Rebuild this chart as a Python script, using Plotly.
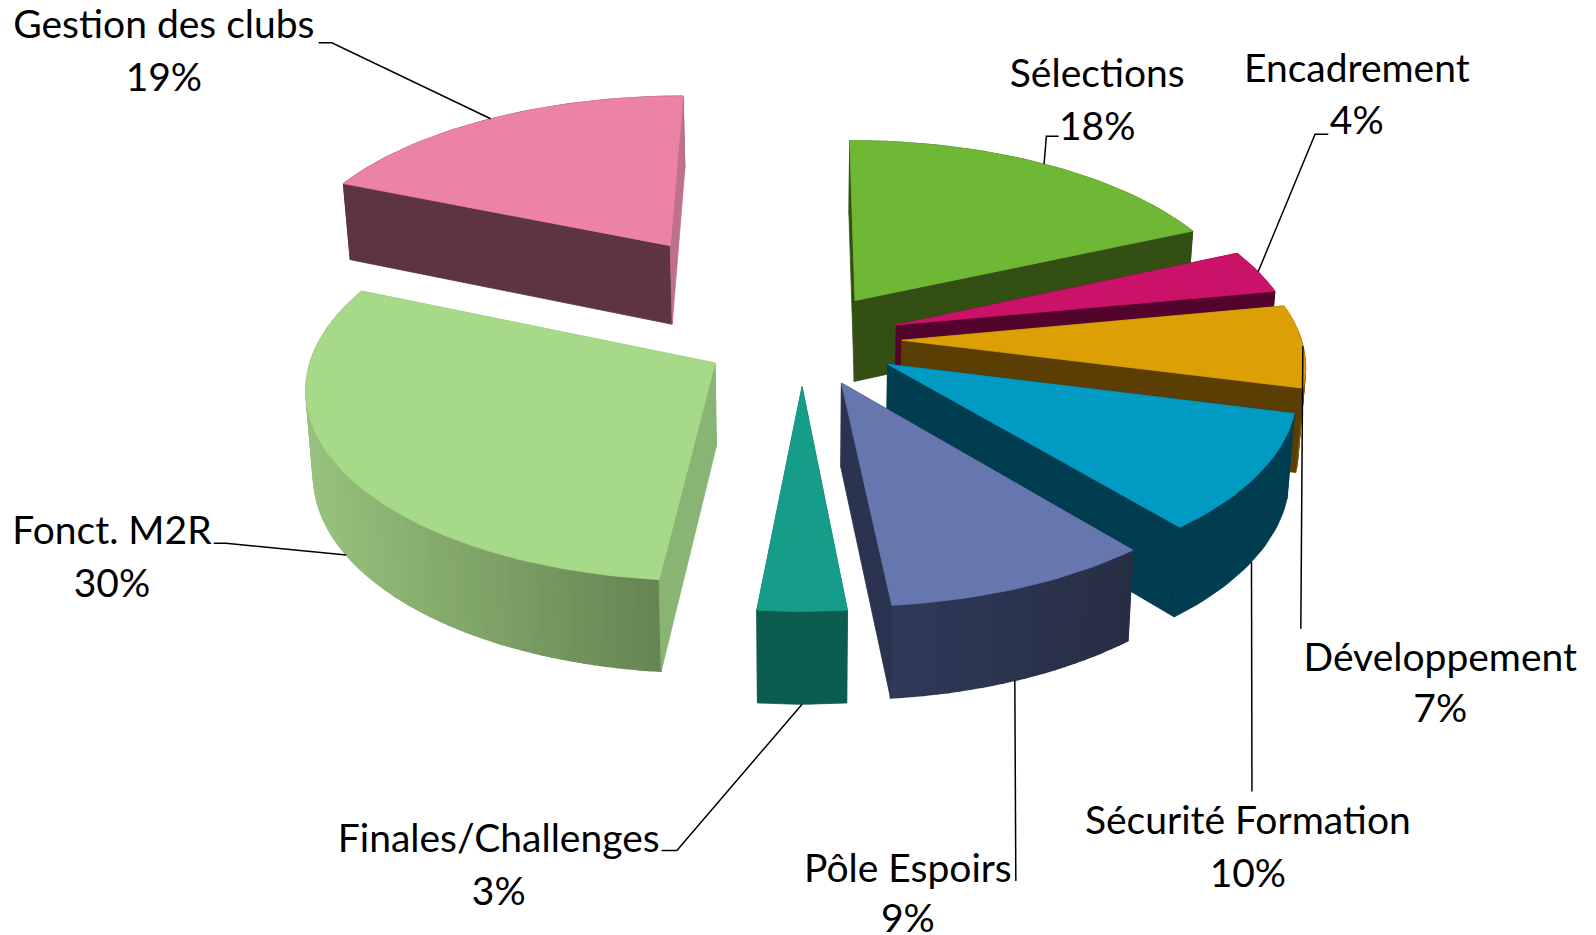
import math
import plotly.graph_objects as go

# --- data ---
categories = ["Sélections", "Encadrement", "Développement", "Sécurité Formation",
              "Pôle Espoirs", "Finales/Challenges", "Fonct. M2R", "Gestion des clubs"]
values = [18.3, 3.7, 7.0, 10.0, 9.45, 3.1, 29.83, 18.62]

# --- styles ---
explode = [0.25, 0.25, 0.25, 0.25, 0.25, 0.25, 0.25, 0.635]
top_colors = ["#6FB835", "#CB1269", "#DCA005", "#009AC3", "#6577AE", "#169D8A", "#A6D988", "#EC82A4"]
radial_colors = ["#334F13", "#52042C", "#5A3E04", "#013D50", "#2A3350", "#0E5C51", "#89B574", "#5E3343"]
wall_left = ["#334F13", "#52042C", "#DCA005", "#013D50", "#2F3A5A", "#0C5C50", "#98C27D", "#5E3343"]
wall_right = ["#334F13", "#52042C", "#7A5600", "#013D50", "#272E44", "#0C5C50", "#658451", "#5E3343"]
end_wall_colors = ["#334F13", "#52042C", "#5A3E04", "#013D50", "#2A3350", "#0E5C51", "#89B574", "#C0708F"]
draw_order = [7, 0, 1, 2, 3, 4, 5, 6]

CX, CY = 788, 333
A, B, K = 392, 183.5, 0.115
W, H = 1568, 919
FONT = "Lato"
FSIZE = 39
LINE = "#000000"

# label centres (line 1 y, line 2 y) and leader waypoints
label_xy = [(1078, 76, 128), (1333, 71, 122), (1415, 650, 700), (1226, 810, 862),
            (892, 857, 906), (490, 828, 880), (110, 525, 577), (161, 28, 80)]
leader_via = [[(1028, 134), (1040, 134)], [(1292, 132), (1305, 132)], [(1278, 618)], [(1230, 778)],
              [(998, 866)], [(665, 836), (650, 836)], [(222, 534), (210, 534)], [(326, 42), (313, 42)]]
leader_on_bottom = [False, False, False, True, True, True, True, False]
leader_frac = [0.5, 0.5, 0.5, 0.5, 0.52, 0.5, 0.5, 0.5]


def project(u, v, low=False):
    d = 1 + K * v
    x = A * u / d
    y = -B * v / d
    if low:
        x *= 0.985
        y += 81 / (1 + 0.09 * v)
    return CX + x, CY + y


def poly(fig, pts, color, width=0.8):
    fig.add_trace(go.Scatter(
        x=[p[0] for p in pts] + [pts[0][0]], y=[p[1] for p in pts] + [pts[0][1]],
        mode="lines", fill="toself", fillcolor=color,
        line=dict(color=color, width=width), hoverinfo="skip", showlegend=False))


def mix(c1, c2, t):
    a = [int(c1[i:i + 2], 16) for i in (1, 3, 5)]
    b = [int(c2[i:i + 2], 16) for i in (1, 3, 5)]
    return "#%02X%02X%02X" % tuple(round(p + (q - p) * t) for p, q in zip(a, b))


total = sum(values)
spans = []
acc = 0.0
for val in values:
    spans.append((acc / total * 2 * math.pi, (acc + val) / total * 2 * math.pi))
    acc += val

fig = go.Figure()
for i in draw_order:
    s, e = spans[i]
    m = (s + e) / 2
    ox, oy = explode[i] * math.sin(m), explode[i] * math.cos(m)
    n = max(6, int((e - s) * 40))
    rim = [(ox + math.sin(s + (e - s) * j / n), oy + math.cos(s + (e - s) * j / n)) for j in range(n + 1)]
    apex = (ox, oy)

    def radial_wall(p, col):
        poly(fig, [project(*apex), project(*p), project(*p, low=True), project(*apex, low=True)], col)

    start_front = math.sin(s) < -1e-6
    end_front = math.sin(e) > -1e-6   # the wall closing the circle shows as a sliver
    if not start_front:
        radial_wall(rim[0], radial_colors[i])
    if not end_front:
        radial_wall(rim[-1], end_wall_colors[i])
    if wall_left[i] == wall_right[i]:
        poly(fig, [project(*p) for p in rim] + [project(*p, low=True) for p in reversed(rim)], wall_left[i])
    else:
        xs = [project(*p)[0] for p in rim]
        xmin, xmax = min(xs), max(xs)
        for j in range(n):
            t = (xs[j] + xs[j + 1] - 2 * xmin) / (2 * (xmax - xmin))
            poly(fig, [project(*rim[j]), project(*rim[j + 1]),
                       project(*rim[j + 1], low=True), project(*rim[j], low=True)],
                 mix(wall_left[i], wall_right[i], t), width=1.6)
    if start_front:
        radial_wall(rim[0], radial_colors[i])
    if end_front:
        radial_wall(rim[-1], end_wall_colors[i])
    poly(fig, [project(*apex)] + [project(*p) for p in rim], top_colors[i])

for i, cat in enumerate(categories):
    s, e = spans[i]
    m = (s + e) / 2
    ang = s + (e - s) * leader_frac[i]
    ax, ay = project(explode[i] * math.sin(m) + math.sin(ang), explode[i] * math.cos(m) + math.cos(ang),
                     low=leader_on_bottom[i])
    path = [(ax, ay)] + leader_via[i]
    fig.add_trace(go.Scatter(x=[p[0] for p in path], y=[p[1] for p in path], mode="lines",
                             line=dict(color=LINE, width=1.5), hoverinfo="skip", showlegend=False))
    lx, y1, y2 = label_xy[i]
    fig.add_trace(go.Scatter(x=[lx, lx], y=[y1, y2], mode="text", cliponaxis=False,
                             text=[cat, f"{round(values[i] / total * 100)}%"],
                             textposition="middle center",
                             textfont=dict(family=FONT, size=FSIZE, color="#000000"),
                             hoverinfo="skip", showlegend=False))

fig.update_layout(
    width=1596, height=935, margin=dict(l=0, r=0, t=0, b=0),
    paper_bgcolor="#FFFFFF", plot_bgcolor="#FFFFFF", showlegend=False,
    xaxis=dict(range=[0, W], visible=False, fixedrange=True),
    yaxis=dict(range=[H, 0], visible=False, fixedrange=True),
)
fig.write_html("out.html", config=dict(displayModeBar=False),
               post_script="document.body.style.margin='0';")
